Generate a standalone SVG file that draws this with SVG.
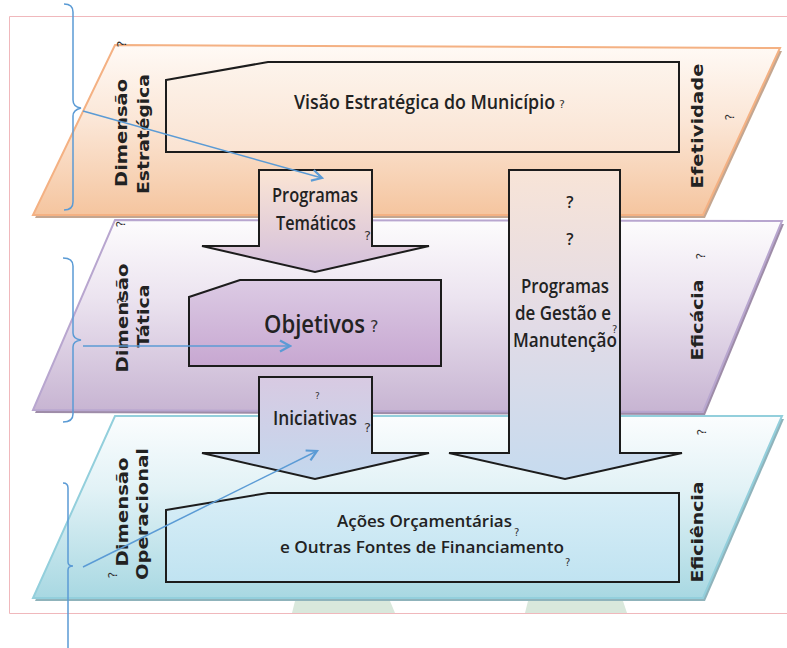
<svg xmlns="http://www.w3.org/2000/svg" width="787" height="648" viewBox="0 0 787 648">
<defs>
<linearGradient id="gOr" x1="0" y1="0" x2="0" y2="1"><stop offset="0" stop-color="#fffaf6"/><stop offset="0.45" stop-color="#fbe6d6"/><stop offset="1" stop-color="#f5c59f"/></linearGradient>
<linearGradient id="gPu" x1="0" y1="0" x2="0" y2="1"><stop offset="0" stop-color="#fdfcfd"/><stop offset="0.4" stop-color="#ece4f0"/><stop offset="1" stop-color="#c7b4d2"/></linearGradient>
<linearGradient id="gCy" x1="0" y1="0" x2="0" y2="1"><stop offset="0" stop-color="#fbfdfe"/><stop offset="0.4" stop-color="#e2f2f6"/><stop offset="1" stop-color="#a8d8e2"/></linearGradient>
<linearGradient id="gVis" x1="0" y1="0" x2="0" y2="1"><stop offset="0" stop-color="#fdf4ec"/><stop offset="1" stop-color="#fae3d2"/></linearGradient>
<linearGradient id="gObj" x1="0" y1="0" x2="0" y2="1"><stop offset="0" stop-color="#dccbe4"/><stop offset="1" stop-color="#c7a7d1"/></linearGradient>
<linearGradient id="gAc" x1="0" y1="0" x2="0" y2="1"><stop offset="0" stop-color="#d8eef7"/><stop offset="1" stop-color="#c0e3f1"/></linearGradient>
<linearGradient id="gA1" gradientUnits="userSpaceOnUse" x1="0" y1="170" x2="0" y2="272"><stop offset="0" stop-color="#fbe5d4"/><stop offset="1" stop-color="#d3bfdc"/></linearGradient>
<linearGradient id="gA2" gradientUnits="userSpaceOnUse" x1="0" y1="377" x2="0" y2="479"><stop offset="0" stop-color="#d8cae2"/><stop offset="1" stop-color="#c3d8ee"/></linearGradient>
<linearGradient id="gA3" gradientUnits="userSpaceOnUse" x1="0" y1="170" x2="0" y2="479"><stop offset="0" stop-color="#f8e4d7"/><stop offset="0.5" stop-color="#e2dbe6"/><stop offset="1" stop-color="#c6dbef"/></linearGradient>
<marker id="arr" markerWidth="14" markerHeight="14" refX="12" refY="7" orient="auto" markerUnits="userSpaceOnUse">
<polyline points="2,1.5 12,7 2,12.5" fill="none" stroke="#5b9bd5" stroke-width="2.2"/>
</marker>
</defs>
<style>
.t{font-family:"Open Sans","DejaVu Sans Condensed","Liberation Sans",sans-serif;font-weight:600;fill:#222;}
.lb{font-family:"DejaVu Sans","Liberation Sans",sans-serif;font-weight:bold;font-size:16px;fill:#222;}
.q{font-family:"DejaVu Sans","Liberation Sans",sans-serif;fill:#333;}
.box{stroke:#1c1c1c;stroke-width:2;}
.con{fill:none;stroke:#5b9bd5;stroke-width:1.5;}
</style>

<!-- page frame -->
<g id="frame" fill="none" stroke="#f0b8bc" stroke-width="1">
<polyline points="787,16.5 9.5,16.5 9.5,613.5 787,613.5"/>
</g>
<g id="bases" fill="#d9e8dc">
<polygon points="295,601 390,601 395,613 292,613"/>
<polygon points="528,601 623,601 627,613 525,613"/>
</g>

<!-- layers -->
<g id="layer-operacional">
<polygon points="117,419 784,419 705,601 35,601" fill="#8fb3bb"/>
<polygon points="115,416 782,416 703,598 33,598" fill="url(#gCy)" stroke="#93cfdc" stroke-width="2"/>
</g>
<g id="layer-tatica">
<polygon points="117,223 784,224 705,415 35,413" fill="#9e8ca8"/>
<polygon points="115,220 782,221 703,412 33,410" fill="url(#gPu)" stroke="#b8a6cf" stroke-width="2"/>
</g>
<g id="layer-estrategica">
<polygon points="117,48 782,51 705,218 35,218" fill="#c4a690"/>
<polygon points="115,45 780,48 703,215 33,215" fill="url(#gOr)" stroke="#f4b183" stroke-width="2"/>
</g>

<!-- boxes -->
<g id="visao">
<polygon class="box" points="166,80 268,62 679,62 679,152 166,152" fill="url(#gVis)"/>
<text class="t" x="294" y="109" font-size="19" textLength="261" lengthAdjust="spacingAndGlyphs">Visão Estratégica do Município</text>
<text class="q" x="559" y="108" font-size="11">?</text>
</g>
<g id="programas-tematicos">
<polygon class="box" points="259,170 372,170 372,246 429,246 315,272 202,246 259,246" fill="url(#gA1)"/>
<text class="t" x="272" y="202" font-size="19" textLength="86" lengthAdjust="spacingAndGlyphs">Programas</text>
<text class="t" x="276" y="230" font-size="19" textLength="80" lengthAdjust="spacingAndGlyphs">Temáticos</text>
<text class="q" x="364" y="240" font-size="13">?</text>
</g>
<g id="objetivos">
<polygon class="box" points="189,297 240,280 441,280 441,366 189,366" fill="url(#gObj)"/>
<text class="t" x="264" y="333" font-size="26" textLength="101" lengthAdjust="spacingAndGlyphs">Objetivos</text>
<text class="q" x="370" y="332" font-size="16">?</text>
</g>
<g id="iniciativas">
<polygon class="box" points="259,377 372,377 372,453 429,453 315,479 202,453 259,453" fill="url(#gA2)"/>
<text class="q" x="315" y="399" font-size="9">?</text>
<text class="t" x="273" y="425" font-size="20" textLength="84" lengthAdjust="spacingAndGlyphs">Iniciativas</text>
<text class="q" x="364" y="432" font-size="13">?</text>
</g>
<g id="gestao">
<polygon class="box" points="509,170 620,170 620,453 682,453 565,479 449,453 509,453" fill="url(#gA3)"/>
<text class="t" x="570" y="208" font-size="16" text-anchor="middle" font-weight="normal">?</text>
<text class="t" x="570" y="245" font-size="16" text-anchor="middle" font-weight="normal">?</text>
<text class="t" x="521" y="293" font-size="19" textLength="88" lengthAdjust="spacingAndGlyphs">Programas</text>
<text class="t" x="515" y="320" font-size="19" textLength="96" lengthAdjust="spacingAndGlyphs">de Gestão e</text>
<text class="t" x="513" y="347" font-size="19" textLength="104" lengthAdjust="spacingAndGlyphs">Manutenção</text>
<text class="q" x="612" y="333" font-size="10">?</text>
</g>
<g id="acoes">
<polygon class="box" points="166,510 268,493 679,493 679,582 166,582" fill="url(#gAc)"/>
<text class="t" x="337" y="527" font-size="17" textLength="175" lengthAdjust="spacingAndGlyphs">Ações Orçamentárias</text>
<text class="q" x="514" y="536" font-size="10">?</text>
<text class="t" x="280" y="553" font-size="17" textLength="284" lengthAdjust="spacingAndGlyphs">e Outras Fontes de Financiamento</text>
<text class="q" x="565" y="566" font-size="10">?</text>
</g>

<!-- side labels -->
<g id="label-estrategica">
<text class="lb" transform="translate(127,133) rotate(-90)" text-anchor="middle" textLength="108" lengthAdjust="spacingAndGlyphs">Dimensão</text>
<text class="lb" transform="translate(149,134) rotate(-90)" text-anchor="middle" textLength="120" lengthAdjust="spacingAndGlyphs">Estratégica</text>
<text class="q" transform="translate(126,44) rotate(-90)" text-anchor="middle" font-size="13">?</text>
</g>
<g id="label-tatica">
<text class="lb" transform="translate(128,318) rotate(-90)" text-anchor="middle" textLength="109" lengthAdjust="spacingAndGlyphs">Dimensão</text>
<text class="lb" transform="translate(149,316) rotate(-90)" text-anchor="middle" textLength="63" lengthAdjust="spacingAndGlyphs">Tática</text>
<text class="q" transform="translate(126,301) rotate(-90)" text-anchor="middle" font-size="13">?</text>
<text class="q" transform="translate(125,224) rotate(-90)" text-anchor="middle" font-size="12">?</text>
</g>
<g id="label-operacional">
<text class="lb" transform="translate(128,512) rotate(-90)" text-anchor="middle" textLength="109" lengthAdjust="spacingAndGlyphs">Dimensão</text>
<text class="lb" transform="translate(148,514) rotate(-90)" text-anchor="middle" textLength="132" lengthAdjust="spacingAndGlyphs">Operacional</text>
<text class="q" transform="translate(117,575) rotate(-90)" text-anchor="middle" font-size="12">?</text>
</g>
<g id="label-efetividade">
<text class="lb" transform="translate(703,126) rotate(-90)" text-anchor="middle" textLength="125" lengthAdjust="spacingAndGlyphs">Efetividade</text>
<text class="q" transform="translate(734,117) rotate(-90)" text-anchor="middle" font-size="12">?</text>
</g>
<g id="label-eficacia">
<text class="lb" transform="translate(703,320) rotate(-90)" text-anchor="middle" textLength="81" lengthAdjust="spacingAndGlyphs">Eficácia</text>
<text class="q" transform="translate(705,256) rotate(-90)" text-anchor="middle" font-size="12">?</text>
</g>
<g id="label-eficiencia">
<text class="lb" transform="translate(703,532) rotate(-90)" text-anchor="middle" textLength="101" lengthAdjust="spacingAndGlyphs">Eficiência</text>
<text class="q" transform="translate(706,432) rotate(-90)" text-anchor="middle" font-size="12">?</text>
</g>

<!-- connectors -->
<g id="connectors">
<path class="con" d="M64,4 Q73,4 73,12 L73,100 Q73,107 81,108 Q73,110 73,116 L73,202 Q73,210 64,210"/>
<path class="con" d="M63,258 Q73,258 73,266 L73,333 Q73,339 81,340 Q73,341 73,347 L73,414 Q73,422 63,422"/>
<path class="con" d="M63,483 Q68,483 68,488 L68,562 Q68,566 73,566 Q68,566 68,570 L68,648"/>
<line class="con" x1="83" y1="111" x2="322" y2="178" marker-end="url(#arr)"/>
<line class="con" x1="83" y1="346" x2="290" y2="346" marker-end="url(#arr)"/>
<line class="con" x1="83" y1="567" x2="317" y2="451" marker-end="url(#arr)"/>
</g>
</svg>
